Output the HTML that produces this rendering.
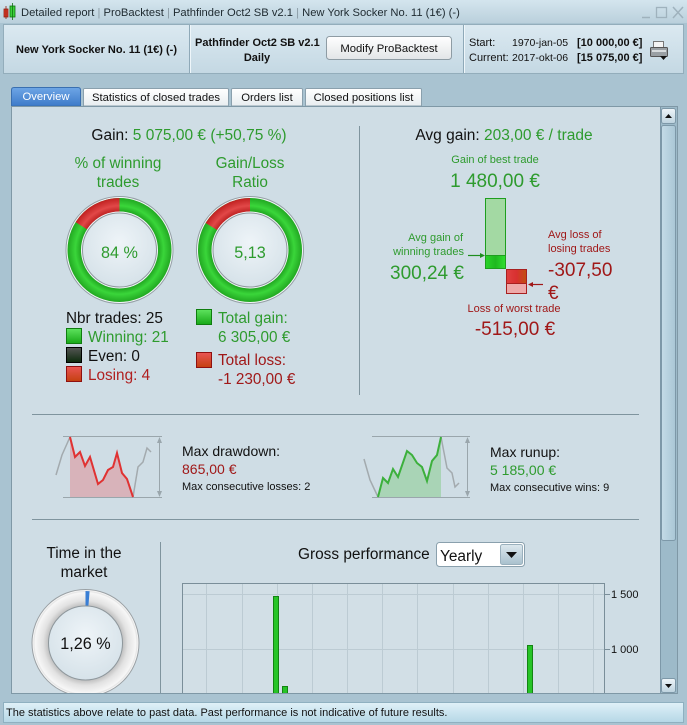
<!DOCTYPE html>
<html><head><meta charset="utf-8"><style>
html,body{margin:0;padding:0;background:#a9c3d1;}
svg{display:block;font-family:"Liberation Sans",Arial,sans-serif;}
</style></head><body>
<svg width="687" height="725" viewBox="0 0 687 725" xmlns="http://www.w3.org/2000/svg">
<defs>
<linearGradient id="gTitle" x1="0" y1="0" x2="0" y2="1"><stop offset="0" stop-color="#d4e5ee"/><stop offset="1" stop-color="#bad0dc"/></linearGradient>
<linearGradient id="gHead" x1="0" y1="0" x2="0" y2="1"><stop offset="0" stop-color="#dbe9f1"/><stop offset="1" stop-color="#c4d8e3"/></linearGradient>
<linearGradient id="gBtn" x1="0" y1="0" x2="0" y2="1"><stop offset="0" stop-color="#ffffff"/><stop offset="1" stop-color="#e2e5e7"/></linearGradient>
<linearGradient id="gTabA" x1="0" y1="0" x2="0" y2="1"><stop offset="0" stop-color="#6ea6e6"/><stop offset="1" stop-color="#3d7ac9"/></linearGradient>
<linearGradient id="gTabI" x1="0" y1="0" x2="0" y2="1"><stop offset="0" stop-color="#ffffff"/><stop offset="1" stop-color="#e8edf0"/></linearGradient>
<linearGradient id="gStat" x1="0" y1="0" x2="0" y2="1"><stop offset="0" stop-color="#e0f1f8"/><stop offset="1" stop-color="#b5d7e6"/></linearGradient>
<linearGradient id="gSB" x1="0" y1="0" x2="1" y2="0"><stop offset="0" stop-color="#c4dbe7"/><stop offset="1" stop-color="#a9c6d5"/></linearGradient>
<linearGradient id="gSBtn" x1="0" y1="0" x2="0" y2="1"><stop offset="0" stop-color="#eef5f9"/><stop offset="1" stop-color="#bcd2de"/></linearGradient>
<linearGradient id="gDD" x1="0" y1="0" x2="0" y2="1"><stop offset="0" stop-color="#dde8ee"/><stop offset="1" stop-color="#a8c0cd"/></linearGradient>
<linearGradient id="sqG" x1="0" y1="0" x2="0" y2="1"><stop offset="0" stop-color="#5fe35f"/><stop offset="1" stop-color="#17a817"/></linearGradient>
<linearGradient id="sqK" x1="0" y1="0" x2="0" y2="1"><stop offset="0" stop-color="#555"/><stop offset="1" stop-color="#0c2a0c"/></linearGradient>
<linearGradient id="sqR" x1="0" y1="0" x2="0" y2="1"><stop offset="0" stop-color="#ea5555"/><stop offset="1" stop-color="#c4400f"/></linearGradient>
<linearGradient id="barG" x1="0" y1="0" x2="1" y2="0"><stop offset="0" stop-color="#2ad42a"/><stop offset="0.5" stop-color="#1fb81f"/><stop offset="1" stop-color="#30e030"/></linearGradient>
<linearGradient id="barR" x1="0" y1="0" x2="1" y2="0"><stop offset="0" stop-color="#e04040"/><stop offset="0.5" stop-color="#d83030"/><stop offset="1" stop-color="#c05010"/></linearGradient>
<radialGradient id="rg1" cx="119.5" cy="250" r="52" gradientUnits="userSpaceOnUse"><stop offset="0.72" stop-color="#1c9e1c"/><stop offset="0.85" stop-color="#3ad63a"/><stop offset="1" stop-color="#22a822"/></radialGradient>
<radialGradient id="rr1" cx="119.5" cy="250" r="52" gradientUnits="userSpaceOnUse"><stop offset="0.72" stop-color="#b81c1c"/><stop offset="0.85" stop-color="#e24848"/><stop offset="1" stop-color="#c02020"/></radialGradient>
<radialGradient id="rg2" cx="250" cy="250" r="52" gradientUnits="userSpaceOnUse"><stop offset="0.72" stop-color="#1c9e1c"/><stop offset="0.85" stop-color="#3ad63a"/><stop offset="1" stop-color="#22a822"/></radialGradient>
<radialGradient id="rr2" cx="250" cy="250" r="52" gradientUnits="userSpaceOnUse"><stop offset="0.72" stop-color="#b81c1c"/><stop offset="0.85" stop-color="#e24848"/><stop offset="1" stop-color="#c02020"/></radialGradient>
<radialGradient id="rgray" cx="85.5" cy="643" r="53" gradientUnits="userSpaceOnUse"><stop offset="0.69" stop-color="#bcbcbc"/><stop offset="0.8" stop-color="#e2e2e2"/><stop offset="0.95" stop-color="#f7f7f7"/><stop offset="1" stop-color="#d0d0d0"/></radialGradient>
<radialGradient id="inner" cx="0.5" cy="0.4" r="0.6"><stop offset="0" stop-color="#eef4f8"/><stop offset="1" stop-color="#d6e2e9"/></radialGradient>
<clipPath id="cp"><rect x="12" y="107" width="648" height="586"/></clipPath>
</defs>

<!-- title bar -->
<rect x="0" y="0" width="687" height="23" fill="url(#gTitle)"/>
<rect x="4" y="9" width="4" height="8" fill="#e03a2a" stroke="#902010" stroke-width="0.8"/>
<line x1="6" y1="6" x2="6" y2="19" stroke="#902010" stroke-width="0.8"/>
<rect x="10" y="6" width="5" height="11" fill="#3ad23a" stroke="#107010" stroke-width="0.8"/>
<line x1="12.5" y1="3" x2="12.5" y2="20" stroke="#107010" stroke-width="0.8"/>
<text x="21" y="16" font-size="11.2" fill="#1e2a30">Detailed report <tspan fill="#8a9aa4">|</tspan> ProBacktest <tspan fill="#8a9aa4">|</tspan> Pathfinder Oct2 SB v2.1 <tspan fill="#8a9aa4">|</tspan> New York Socker No. 11 (1€) (-)</text>
<line x1="642" y1="17.5" x2="650" y2="17.5" stroke="#9fb2bd" stroke-width="1.5"/>
<rect x="656.5" y="7.5" width="10" height="10" fill="none" stroke="#9fb2bd" stroke-width="1.3"/>
<path d="M673 7 L683 18 M683 7 L673 18" stroke="#9fb2bd" stroke-width="1.5"/>

<!-- header -->
<rect x="3.5" y="24.5" width="680" height="49" fill="url(#gHead)" stroke="#93adbb"/>
<line x1="189.5" y1="25" x2="189.5" y2="73" stroke="#8fa9b8"/>
<line x1="190.5" y1="25" x2="190.5" y2="73" stroke="#eef6fa"/>
<line x1="463.5" y1="25" x2="463.5" y2="73" stroke="#8fa9b8"/>
<line x1="464.5" y1="25" x2="464.5" y2="73" stroke="#eef6fa"/>
<text x="16" y="53" font-size="11" font-weight="bold" fill="#111">New York Socker No. 11 (1€) (-)</text>
<text x="195" y="46" font-size="11" font-weight="bold" fill="#111">Pathfinder Oct2 SB v2.1</text>
<text x="257" y="61" font-size="11" font-weight="bold" fill="#111" text-anchor="middle">Daily</text>
<rect x="326.5" y="36.5" width="125" height="23" rx="3" fill="url(#gBtn)" stroke="#8e9ca4"/>
<text x="389" y="52" font-size="11.3" fill="#111" text-anchor="middle">Modify ProBacktest</text>
<text x="469" y="46" font-size="11" fill="#111">Start:</text>
<text x="512" y="46" font-size="10.5" fill="#111">1970-jan-05</text>
<text x="577" y="46" font-size="11" font-weight="bold" fill="#111">[10 000,00 €]</text>
<text x="469" y="61" font-size="11" fill="#111">Current:</text>
<text x="512" y="61" font-size="10.5" fill="#111">2017-okt-06</text>
<text x="577" y="61" font-size="11" font-weight="bold" fill="#111">[15 075,00 €]</text>
<!-- printer -->
<rect x="653.5" y="41.5" width="10" height="7" fill="#f4f4f4" stroke="#777"/>
<rect x="650.5" y="47.5" width="17" height="9" rx="1" fill="#9aa0a4" stroke="#555"/>
<rect x="652" y="50" width="14" height="2" fill="#d8dcde"/>
<path d="M660 56 L667 56 L663.5 60 Z" fill="#111"/>

<!-- tabs -->
<path d="M11.5 106 L11.5 90 Q11.5 87.5 14 87.5 L78 87.5 Q80.5 87.5 80.5 90 L80.5 106 Z" fill="url(#gTabA)" stroke="#3a6fb0"/>
<text x="46" y="100" font-size="11.3" fill="#ffffff" text-anchor="middle">Overview</text>
<path d="M83.5 106 L83.5 89.5 Q83.5 88.5 85 88.5 L227 88.5 Q228.5 88.5 228.5 89.5 L228.5 106 Z" fill="url(#gTabI)" stroke="#8aa0ad"/>
<text x="156" y="101" font-size="11.3" fill="#111" text-anchor="middle">Statistics of closed trades</text>
<path d="M231.5 106 L231.5 89.5 Q231.5 88.5 233 88.5 L301 88.5 Q302.5 88.5 302.5 89.5 L302.5 106 Z" fill="url(#gTabI)" stroke="#8aa0ad"/>
<text x="267" y="101" font-size="11.3" fill="#111" text-anchor="middle">Orders list</text>
<path d="M305.5 106 L305.5 89.5 Q305.5 88.5 307 88.5 L420 88.5 Q421.5 88.5 421.5 89.5 L421.5 106 Z" fill="url(#gTabI)" stroke="#8aa0ad"/>
<text x="363.5" y="101" font-size="11.3" fill="#111" text-anchor="middle">Closed positions list</text>

<!-- content panel -->
<rect x="11.5" y="106.5" width="666" height="587" fill="#cfdde5" stroke="#7f98a6"/>

<!-- scrollbar -->
<rect x="660" y="107" width="17" height="586" fill="#9dbac9"/>
<line x1="660.5" y1="107" x2="660.5" y2="693" stroke="#7d98a8"/>
<rect x="661.5" y="108.5" width="14" height="15" rx="2" fill="url(#gSBtn)" stroke="#7d98a8"/>
<path d="M665 118 L672 118 L668.5 114 Z" fill="#111"/>
<rect x="661.5" y="125.5" width="14" height="415" rx="2" fill="url(#gSB)" stroke="#7d98a8"/>
<rect x="661.5" y="678.5" width="14" height="14" rx="2" fill="url(#gSBtn)" stroke="#7d98a8"/>
<path d="M665 684 L672 684 L668.5 688 Z" fill="#111"/>

<g clip-path="url(#cp)">
<!-- Gain line -->
<text x="189" y="140" font-size="15.5" text-anchor="middle" fill="#111">Gain: <tspan fill="#2e9b2e">5 075,00 € (+50,75 %)</tspan></text>
<text x="118" y="168" font-size="15.3" text-anchor="middle" fill="#2e9b2e">% of winning</text>
<text x="118" y="187" font-size="15.3" text-anchor="middle" fill="#2e9b2e">trades</text>
<text x="250" y="168" font-size="15.3" text-anchor="middle" fill="#2e9b2e">Gain/Loss</text>
<text x="250" y="187" font-size="15.3" text-anchor="middle" fill="#2e9b2e">Ratio</text>

<!-- donut 1 -->
<circle cx="119.5" cy="250" r="53.5" fill="#f3f7f9" stroke="#949fa5"/>
<circle cx="119.5" cy="250" r="52" fill="url(#rg1)"/>
<path d="M119.5 250 L119.5 198 A52 52 0 0 0 75.6 222.1 Z" fill="url(#rr1)"/>
<circle cx="119.5" cy="250" r="38.5" fill="#f2f6f8"/>
<circle cx="119.5" cy="250" r="37" fill="url(#inner)" stroke="#8e979c"/>
<text x="119.5" y="258" font-size="16.2" text-anchor="middle" fill="#2e9b2e">84 %</text>

<!-- donut 2 -->
<circle cx="250" cy="250" r="53.5" fill="#f3f7f9" stroke="#949fa5"/>
<circle cx="250" cy="250" r="52" fill="url(#rg2)"/>
<path d="M250 250 L250 198 A52 52 0 0 0 205.6 223 Z" fill="url(#rr2)"/>
<circle cx="250" cy="250" r="38.5" fill="#f2f6f8"/>
<circle cx="250" cy="250" r="37" fill="url(#inner)" stroke="#8e979c"/>
<text x="250" y="258" font-size="16.2" text-anchor="middle" fill="#2e9b2e">5,13</text>

<!-- legend left -->
<text x="66" y="323" font-size="15.3" fill="#111">Nbr trades: 25</text>
<rect x="66.5" y="328.5" width="15" height="15" fill="url(#sqG)" stroke="#0f7d0f"/>
<text x="88" y="342" font-size="15.3" fill="#2e9b2e">Winning: 21</text>
<rect x="66.5" y="347.5" width="15" height="15" fill="url(#sqK)" stroke="#000"/>
<text x="88" y="361" font-size="15.3" fill="#111">Even: 0</text>
<rect x="66.5" y="366.5" width="15" height="15" fill="url(#sqR)" stroke="#8f1010"/>
<text x="88" y="380" font-size="15.3" fill="#b02020">Losing: 4</text>
<!-- legend right -->
<rect x="196.5" y="309.5" width="15" height="15" fill="url(#sqG)" stroke="#0f7d0f"/>
<text x="218" y="323" font-size="15.3" fill="#2e9b2e">Total gain:</text>
<text x="218" y="342" font-size="15.3" fill="#2e9b2e">6 305,00 €</text>
<rect x="196.5" y="352.5" width="15" height="15" fill="url(#sqR)" stroke="#8f1010"/>
<text x="218" y="365" font-size="15.3" fill="#a01818">Total loss:</text>
<text x="218" y="384" font-size="15.3" fill="#a01818">-1 230,00 €</text>

<line x1="359.5" y1="126" x2="359.5" y2="395" stroke="#7f949e"/>

<!-- right: avg gain -->
<text x="504" y="140" font-size="15.5" text-anchor="middle" fill="#111">Avg gain: <tspan fill="#2e9b2e">203,00 € / trade</tspan></text>
<text x="495" y="163" font-size="11" text-anchor="middle" fill="#2e9b2e">Gain of best trade</text>
<text x="495" y="187" font-size="19" text-anchor="middle" fill="#2e9b2e">1 480,00 €</text>
<rect x="485.5" y="198.5" width="20" height="70" fill="#a3d9a3" stroke="#1e9e1e"/>
<rect x="485.5" y="255.5" width="20" height="13" fill="url(#barG)" stroke="#1e9e1e"/>
<rect x="506.5" y="269.5" width="20" height="24" fill="#eeaaaa" stroke="#a82020"/>
<rect x="506.5" y="269.5" width="20" height="14" fill="url(#barR)" stroke="#a82020"/>
<text x="463" y="241" font-size="11" text-anchor="end" fill="#2e9b2e">Avg gain of</text>
<text x="464" y="255" font-size="11" text-anchor="end" fill="#2e9b2e">winning trades</text>
<line x1="468" y1="255.5" x2="482" y2="255.5" stroke="#1e8e1e" stroke-width="1.2"/>
<path d="M485 255.5 L480 253 L480 258 Z" fill="#1e8e1e"/>
<text x="390" y="279" font-size="19" fill="#2e9b2e">300,24 €</text>
<text x="548" y="238" font-size="11" fill="#a01818">Avg loss of</text>
<text x="548" y="252" font-size="11" fill="#a01818">losing trades</text>
<text x="548" y="276" font-size="19" fill="#a01818">-307,50</text>
<text x="548" y="299" font-size="19" fill="#a01818">€</text>
<line x1="531" y1="284.5" x2="543" y2="284.5" stroke="#a01818" stroke-width="1.2"/>
<path d="M528 284.5 L533 282 L533 287 Z" fill="#a01818"/>
<text x="514" y="312" font-size="11" text-anchor="middle" fill="#a01818">Loss of worst trade</text>
<text x="515" y="335" font-size="19" text-anchor="middle" fill="#a01818">-515,00 €</text>

<!-- dividers -->
<line x1="32" y1="414.5" x2="639" y2="414.5" stroke="#7f949e"/>
<line x1="32" y1="519.5" x2="639" y2="519.5" stroke="#7f949e"/>

<!-- drawdown chart -->
<line x1="63" y1="436.5" x2="162" y2="436.5" stroke="#9aa6ac"/>
<line x1="63" y1="497.5" x2="162" y2="497.5" stroke="#9aa6ac"/>
<line x1="159.5" y1="440" x2="159.5" y2="494" stroke="#9aa6ac"/>
<path d="M159.5 437 L157 443 L162 443 Z M159.5 497 L157 491 L162 491 Z" fill="#9aa6ac"/>
<path d="M70 437 L75 457 L80 452 L85 466 L90 457 L98 484 L103 480 L108 470 L113 467 L117 453 L122 473 L127 479 L133 497 L70 497 Z" fill="#d8b3ba"/>
<polyline points="56,475 62,455 70,437" fill="none" stroke="#a3aaae" stroke-width="1.5"/>
<polyline points="133,497 138,467 143,462 147,448 151,452" fill="none" stroke="#a3aaae" stroke-width="1.5"/>
<polyline points="70,437 75,457 80,452 85,466 90,457 98,484 103,480 108,470 113,467 117,453 122,473 127,479 133,497" fill="none" stroke="#e03232" stroke-width="2"/>
<text x="182" y="456" font-size="14" fill="#111">Max drawdown:</text>
<text x="182" y="474" font-size="14" fill="#a01818">865,00 €</text>
<text x="182" y="490" font-size="11" fill="#111">Max consecutive losses: 2</text>

<!-- runup chart -->
<line x1="372" y1="436.5" x2="470" y2="436.5" stroke="#9aa6ac"/>
<line x1="372" y1="497.5" x2="470" y2="497.5" stroke="#9aa6ac"/>
<line x1="467.5" y1="440" x2="467.5" y2="494" stroke="#9aa6ac"/>
<path d="M467.5 437 L465 443 L470 443 Z M467.5 497 L465 491 L470 491 Z" fill="#9aa6ac"/>
<path d="M378 497 L383 478 L388 483 L393 469 L398 477 L407 451 L412 455 L417 463 L422 467 L427 481 L432 461 L437 455 L441 437 L441 497 Z" fill="#a9d4b6"/>
<polyline points="364,459 370,480 378,497" fill="none" stroke="#a3aaae" stroke-width="1.5"/>
<polyline points="441,437 447,468 452,473 455,487 459,483" fill="none" stroke="#a3aaae" stroke-width="1.5"/>
<polyline points="378,497 383,478 388,483 393,469 398,477 407,451 412,455 417,463 422,467 427,481 432,461 437,455 441,437" fill="none" stroke="#3cb03c" stroke-width="2"/>
<text x="490" y="457" font-size="14" fill="#111">Max runup:</text>
<text x="490" y="475" font-size="14" fill="#2e9b2e">5 185,00 €</text>
<text x="490" y="491" font-size="11" fill="#111">Max consecutive wins: 9</text>

<!-- time in market -->
<text x="84" y="558" font-size="15.3" text-anchor="middle" fill="#111">Time in the</text>
<text x="84" y="577" font-size="15.3" text-anchor="middle" fill="#111">market</text>
<line x1="160.5" y1="542" x2="160.5" y2="694" stroke="#7f949e"/>
<circle cx="85.5" cy="643" r="53.5" fill="#f4f4f4" stroke="#9aa0a4"/>
<circle cx="85.5" cy="643" r="52" fill="url(#rgray)"/>
<path d="M85.5 591 A52 52 0 0 1 89.6 591.2 L88.4 606.1 A37 37 0 0 0 85.5 606 Z" fill="#3a7fd5"/>
<circle cx="85.5" cy="643" r="37" fill="url(#inner)" stroke="#8e979c"/>
<text x="85.5" y="649" font-size="16.2" text-anchor="middle" fill="#111">1,26 %</text>

<!-- gross performance -->
<text x="298" y="559" font-size="15.4" fill="#111">Gross performance</text>
<rect x="436.5" y="542.5" width="88" height="24" rx="3" fill="#ffffff" stroke="#8aa0ad"/>
<text x="440" y="561" font-size="15.4" fill="#111">Yearly</text>
<rect x="500.5" y="544.5" width="22" height="20" rx="2" fill="url(#gDD)" stroke="#9ab0bd"/>
<path d="M506 552 L517 552 L511.5 558 Z" fill="#111"/>

<rect x="182.5" y="583.5" width="422" height="130" fill="#d2dfe6" stroke="#7a8e99"/>
<g stroke="#bccbd3" stroke-width="1">
<line x1="183" y1="594.5" x2="604" y2="594.5"/>
<line x1="183" y1="649.5" x2="604" y2="649.5"/>
<line x1="206.5" y1="584" x2="206.5" y2="694"/>
<line x1="242.5" y1="584" x2="242.5" y2="694"/>
<line x1="277.5" y1="584" x2="277.5" y2="694"/>
<line x1="312.5" y1="584" x2="312.5" y2="694"/>
<line x1="347.5" y1="584" x2="347.5" y2="694"/>
<line x1="382.5" y1="584" x2="382.5" y2="694"/>
<line x1="417.5" y1="584" x2="417.5" y2="694"/>
<line x1="453.5" y1="584" x2="453.5" y2="694"/>
<line x1="488.5" y1="584" x2="488.5" y2="694"/>
<line x1="523.5" y1="584" x2="523.5" y2="694"/>
<line x1="558.5" y1="584" x2="558.5" y2="694"/>
<line x1="593.5" y1="584" x2="593.5" y2="694"/>
</g>
<rect x="182.5" y="583.5" width="422" height="130" fill="none" stroke="#7a8e99"/>
<rect x="273.5" y="596.5" width="5" height="100" fill="#27c427" stroke="#138413"/>
<rect x="282.5" y="686.5" width="5" height="10" fill="#27c427" stroke="#138413"/>
<rect x="527.5" y="645.5" width="5" height="50" fill="#27c427" stroke="#138413"/>
<line x1="605" y1="594.5" x2="610" y2="594.5" stroke="#7a8e99"/>
<line x1="605" y1="649.5" x2="610" y2="649.5" stroke="#7a8e99"/>
<text x="611" y="598" font-size="11" fill="#111">1 500</text>
<text x="611" y="653" font-size="11" fill="#111">1 000</text>
</g>
<line x1="11" y1="693.5" x2="660" y2="693.5" stroke="#7f98a6"/>

<!-- status bar -->
<rect x="3.5" y="702.5" width="680" height="20" fill="url(#gStat)" stroke="#8fb0c0"/>
<text x="6" y="716" font-size="11" fill="#111">The statistics above relate to past data. Past performance is not indicative of future results.</text>
</svg>
</body></html>
